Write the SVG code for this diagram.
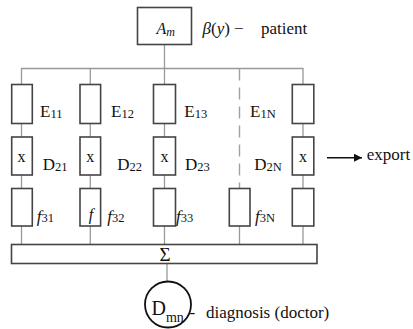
<svg xmlns="http://www.w3.org/2000/svg" width="413" height="329" viewBox="0 0 413 329">
  <defs>
    <style>
      .box { fill: #fff; stroke: #444; stroke-width: 1.6; }
      .wire { fill: none; stroke: #999; stroke-width: 1.3; }
      .dash { fill: none; stroke: #a0a0a0; stroke-width: 1.4; stroke-dasharray: 12 7; }
      text { font-family: "Liberation Serif", "Times New Roman", serif; fill: #111; }
      .lbl { font-size: 17px; }
      .sub { font-size: 12.5px; }
      .it { font-style: italic; }
      .mark { font-size: 16px; text-anchor: middle; }
    </style>
    <marker id="arrow" viewBox="0 0 10 10" refX="10" refY="5" markerWidth="10" markerHeight="8" markerUnits="userSpaceOnUse" orient="auto">
      <path d="M0,0 L10,5 L0,10 z" fill="#111"/>
    </marker>
  </defs>

  <!-- connectors -->
  <g id="connectors">
    <line class="wire" x1="164.5" y1="44.5" x2="164.5" y2="84.5"/>
    <path class="wire" d="M21.5,84.5 V68.5 H303 V84.5"/>
    <line class="wire" x1="90.3" y1="68.5" x2="90.3" y2="84.5"/>
    <line class="dash" x1="239.5" y1="68.5" x2="239.5" y2="188.5"/>
    <!-- column links between stages -->
    <g>
      <line class="wire" x1="21.5" y1="123.5" x2="21.5" y2="137"/>
      <line class="wire" x1="21.5" y1="175" x2="21.5" y2="188.5"/>
      <line class="wire" x1="21.5" y1="226" x2="21.5" y2="244.5"/>
      <line class="wire" x1="90.3" y1="123.5" x2="90.3" y2="137"/>
      <line class="wire" x1="90.3" y1="175" x2="90.3" y2="188.5"/>
      <line class="wire" x1="90.3" y1="226" x2="90.3" y2="244.5"/>
      <line class="wire" x1="164.5" y1="123.5" x2="164.5" y2="137"/>
      <line class="wire" x1="164.5" y1="175" x2="164.5" y2="188.5"/>
      <line class="wire" x1="164.5" y1="226" x2="164.5" y2="244.5"/>
      <line class="wire" x1="239.5" y1="226" x2="239.5" y2="244.5"/>
      <line class="wire" x1="303" y1="123.5" x2="303" y2="137"/>
      <line class="wire" x1="303" y1="175" x2="303" y2="188.5"/>
      <line class="wire" x1="303" y1="226" x2="303" y2="244.5"/>
    </g>
    <line class="wire" x1="167" y1="263.5" x2="167" y2="281.5"/>
    <line x1="327" y1="157.7" x2="362" y2="157.7" stroke="#111" stroke-width="1.4" marker-end="url(#arrow)"/>
  </g>

  <!-- source block -->
  <g id="node-am">
    <rect class="box" x="137.5" y="7.5" width="54" height="37"/>
    <text x="156.5" y="33.5" font-size="16" class="it">A<tspan font-size="12" dy="2">m</tspan></text>
    <text x="202.5" y="34" class="lbl"><tspan class="it">β</tspan>(<tspan class="it">y</tspan>) −</text>
    <text x="261" y="34" class="lbl">patient</text>
  </g>

  <!-- column 1 -->
  <g id="col-1">
    <rect class="box" x="11.7" y="84.5" width="20.6" height="39"/>
    <rect class="box" x="11.7" y="137" width="20.6" height="38"/>
    <rect class="box" x="11.7" y="188.5" width="20.6" height="37.5"/>
    <text x="21.5" y="162" class="mark">x</text>
    <text x="40" y="117" class="lbl">E<tspan class="sub" dy="1">11</tspan></text>
    <text x="42.7" y="170" class="lbl">D<tspan class="sub" dy="1">21</tspan></text>
    <text x="36.7" y="221.5" class="lbl"><tspan class="it">f</tspan><tspan class="sub">31</tspan></text>
  </g>

  <!-- column 2 -->
  <g id="col-2">
    <rect class="box" x="80" y="84.5" width="20.6" height="39"/>
    <rect class="box" x="80" y="137" width="20.6" height="38"/>
    <rect class="box" x="80" y="188.5" width="20.6" height="37.5"/>
    <text x="90.3" y="162" class="mark">x</text>
    <text x="91" y="220" class="mark it">f</text>
    <text x="111" y="117" class="lbl">E<tspan class="sub" dy="1">12</tspan></text>
    <text x="117.3" y="170" class="lbl">D<tspan class="sub" dy="1">22</tspan></text>
    <text x="107.3" y="221.5" class="lbl"><tspan class="it">f</tspan><tspan class="sub">32</tspan></text>
  </g>

  <!-- column 3 -->
  <g id="col-3">
    <rect class="box" x="153.5" y="84.5" width="22" height="39"/>
    <rect class="box" x="153.5" y="137" width="22" height="38"/>
    <rect class="box" x="153.5" y="188.5" width="22" height="37.5"/>
    <text x="164.5" y="162" class="mark">x</text>
    <text x="184.3" y="117" class="lbl">E<tspan class="sub" dy="1">13</tspan></text>
    <text x="185" y="170" class="lbl">D<tspan class="sub" dy="1">23</tspan></text>
    <text x="176" y="221.5" class="lbl"><tspan class="it">f</tspan><tspan class="sub">33</tspan></text>
  </g>

  <!-- column N (elided branch) -->
  <g id="col-n">
    <rect class="box" x="229.3" y="188.5" width="20.7" height="37.5"/>
    <text x="250" y="117" class="lbl">E<tspan class="sub" dy="1">1N</tspan></text>
    <text x="254.3" y="170" class="lbl">D<tspan class="sub" dy="1">2N</tspan></text>
    <text x="255" y="221.5" class="lbl"><tspan class="it">f</tspan><tspan class="sub">3N</tspan></text>
  </g>

  <!-- last column -->
  <g id="col-last">
    <rect class="box" x="292.3" y="84.5" width="21.5" height="39"/>
    <rect class="box" x="292.3" y="137" width="21.5" height="38"/>
    <rect class="box" x="292.3" y="188.5" width="21.5" height="37.5"/>
    <text x="303" y="162" class="mark">x</text>
    <text x="366.7" y="160" class="lbl">export</text>
  </g>

  <!-- summation bar -->
  <g id="node-sum">
    <rect class="box" x="11.5" y="244.5" width="305.5" height="19"/>
    <text x="165" y="261" font-size="19" text-anchor="middle">Σ</text>
  </g>

  <!-- diagnosis -->
  <g id="node-dmn">
    <circle cx="168" cy="304.5" r="23" fill="#fff" stroke="#111" stroke-width="1.8"/>
    <text x="151.5" y="314.5" font-size="20">D<tspan font-size="14" dy="7">mn</tspan></text>
    <text x="189.5" y="317.5" class="lbl">-</text>
    <text x="206" y="318" class="lbl">diagnosis (doctor)</text>
  </g>
</svg>
